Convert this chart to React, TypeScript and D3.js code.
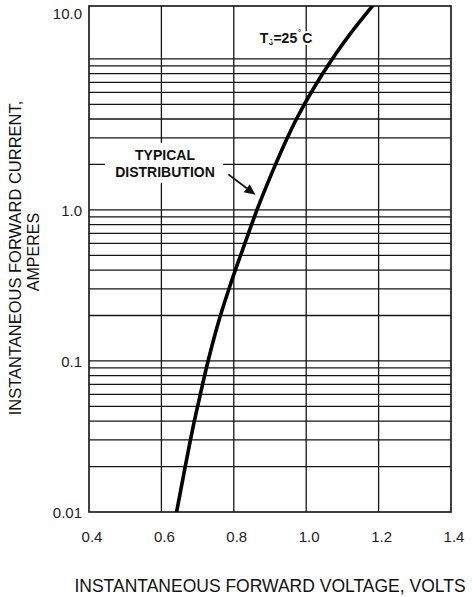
import React, { useEffect } from 'react';
import * as d3 from 'd3';

// typical forward characteristic
const voltage = [0.642, 0.665, 0.679, 0.69, 0.7, 0.729, 0.762, 0.787, 0.803, 0.817, 0.836, 0.864, 0.908, 0.947, 0.977, 1.01, 1.044, 1.08, 1.121, 1.19];
const current = [0.01, 0.0195, 0.029, 0.039, 0.05, 0.1, 0.196, 0.302, 0.392, 0.487, 0.653, 1.0, 1.82, 2.97, 4.17, 5.79, 7.88, 10.66, 14.6, 23.5];

const xTicks = [0.4, 0.6, 0.8, 1.0, 1.2, 1.4];
const xTickLabels = ['0.4', '0.6', '0.8', '1.0', '1.2', '1.4'];
// the scan prints "10.0" up at the top edge of the frame
const yTicks = [0.01, 0.1, 1, 20];
const yTickLabels = ['0.01', '0.1', '1.0', '10.0'];

const decades = [0.01, 0.1, 1, 10];
const multipliers = [1, 2, 3, 4, 5, 6, 7, 8, 9];

const App = () => {
  const width = 473;
  const height = 597;
  const margin = { top: 6, right: 22, bottom: 85, left: 89 };

  function drawChart() {
    d3.select('#fv-container').select('svg').remove();

    const svg = d3
      .select('#fv-container')
      .append('svg')
      .attr('width', width)
      .attr('height', height)
      .style('display', 'block')
      .style('background', '#fff')
      .style('font-family', '"Liberation Sans", Arial, Helvetica, sans-serif');

    const x = d3.scaleLinear().domain([0.4, 1.4]).range([margin.left, width - margin.right]);
    const y = d3.scaleLog().domain([0.01, 22.4]).range([height - margin.bottom, margin.top]);

    const [x0, x1] = x.range();
    const [y0, y1] = y.range();

    // grid
    const hGrid = decades.flatMap((d) => multipliers.map((m) => +(d * m).toPrecision(3))).filter((v) => v > 0.01 && v <= 10);
    svg
      .append('g')
      .selectAll('line')
      .data(hGrid)
      .enter()
      .append('line')
      .attr('x1', x0)
      .attr('x2', x1)
      .attr('y1', (d) => y(d))
      .attr('y2', (d) => y(d))
      .attr('stroke', '#151515')
      .attr('stroke-width', 1.3);

    svg
      .append('g')
      .selectAll('line')
      .data(xTicks.slice(1, -1))
      .enter()
      .append('line')
      .attr('x1', (d) => x(d))
      .attr('x2', (d) => x(d))
      .attr('y1', y0)
      .attr('y2', y1)
      .attr('stroke', '#151515')
      .attr('stroke-width', 1.3);

    // frame
    svg
      .append('rect')
      .attr('x', x0)
      .attr('y', y1)
      .attr('width', x1 - x0)
      .attr('height', y0 - y1)
      .attr('fill', 'none')
      .attr('stroke', '#111')
      .attr('stroke-width', 1.6);

    // curve
    svg
      .append('clipPath')
      .attr('id', 'plot-clip')
      .append('rect')
      .attr('x', x0)
      .attr('y', y1)
      .attr('width', x1 - x0)
      .attr('height', y0 - y1);

    const pts: [number, number][] = voltage.map((v, i) => [x(v), y(current[i])]);
    const line = d3.line().curve(d3.curveCatmullRom.alpha(0.5));
    svg
      .append('path')
      .attr('clip-path', 'url(#plot-clip)')
      .attr('d', line(pts))
      .attr('fill', 'none')
      .attr('stroke', '#000')
      .attr('stroke-width', 3.6)
      .attr('stroke-linecap', 'round');

    // tick labels
    svg
      .append('g')
      .selectAll('text')
      .data(yTicks)
      .enter()
      .append('text')
      .attr('x', x0 - 7)
      .attr('y', (d) => y(d) + 6)
      .attr('text-anchor', 'end')
      .attr('font-size', 15)
      .attr('fill', '#222')
      .text((_, i) => yTickLabels[i]);

    svg
      .append('g')
      .selectAll('text')
      .data(xTicks)
      .enter()
      .append('text')
      .attr('x', (d) => x(d) + 3)
      .attr('y', y0 + 30)
      .attr('text-anchor', 'middle')
      .attr('font-size', 15)
      .attr('fill', '#222')
      .text((_, i) => xTickLabels[i]);

    // axis titles
    svg
      .append('text')
      .attr('x', 270)
      .attr('y', 592)
      .attr('text-anchor', 'middle')
      .attr('font-size', 17.5)
      .attr('fill', '#111')
      .text('INSTANTANEOUS FORWARD VOLTAGE, VOLTS');

    const yTitle = svg.append('g').attr('transform', 'translate(21, 258) rotate(-90)');
    yTitle
      .append('text')
      .attr('text-anchor', 'middle')
      .attr('font-size', 16.5)
      .attr('fill', '#111')
      .text('INSTANTANEOUS FORWARD CURRENT,');
    yTitle
      .append('text')
      .attr('x', 6)
      .attr('y', 18)
      .attr('text-anchor', 'middle')
      .attr('font-size', 16)
      .attr('fill', '#111')
      .text('AMPERES');

    // "TYPICAL DISTRIBUTION" annotation
    const lx = x(0.61);
    const ly = y(1.9);
    svg
      .append('rect')
      .attr('x', lx - 60)
      .attr('y', ly - 25)
      .attr('width', 118)
      .attr('height', 40)
      .attr('fill', '#fff');
    svg
      .append('text')
      .attr('x', lx)
      .attr('y', ly - 8)
      .attr('text-anchor', 'middle')
      .attr('font-size', 14)
      .attr('font-weight', 'bold')
      .attr('fill', '#111')
      .text('TYPICAL');
    svg
      .append('text')
      .attr('x', lx)
      .attr('y', ly + 9)
      .attr('text-anchor', 'middle')
      .attr('font-size', 14)
      .attr('font-weight', 'bold')
      .attr('fill', '#111')
      .text('DISTRIBUTION');

    const ax0 = x(0.785);
    const ay0 = y(1.72);
    const ax1 = x(0.86);
    const ay1 = y(1.26);
    const len = Math.hypot(ax1 - ax0, ay1 - ay0);
    const ux = (ax1 - ax0) / len;
    const uy = (ay1 - ay0) / len;
    const hl = 11;
    const hw = 5;
    svg
      .append('line')
      .attr('x1', ax0)
      .attr('y1', ay0)
      .attr('x2', ax1 - ux * hl)
      .attr('y2', ay1 - uy * hl)
      .attr('stroke', '#111')
      .attr('stroke-width', 1.8);
    svg
      .append('path')
      .attr(
        'd',
        `M${ax1},${ay1}L${ax1 - ux * hl - uy * hw},${ay1 - uy * hl + ux * hw}L${ax1 - ux * hl + uy * hw},${ay1 - uy * hl - ux * hw}Z`
      )
      .attr('fill', '#111');

    // junction temperature label
    const tj = svg
      .append('text')
      .attr('x', x(0.872))
      .attr('y', y(12.7))
      .attr('font-size', 14)
      .attr('font-weight', 'bold')
      .attr('fill', '#111')
      .attr('stroke', '#fff')
      .attr('stroke-width', 4)
      .attr('paint-order', 'stroke');
    tj.append('tspan').text('T');
    tj.append('tspan').attr('font-size', 9).attr('dy', 2).text('J');
    tj.append('tspan').attr('dy', -2).text('=25');
    tj.append('tspan').attr('font-size', 9).attr('dy', -6).attr('dx', 1).text('˚');
    tj.append('tspan').attr('dy', 6).attr('dx', 1).text('C');
  }

  useEffect(() => {
    drawChart();
  }, []);

  return <div id='fv-container' style={{ position: 'absolute', left: 0, top: 0 }} />;
};

export default App;
